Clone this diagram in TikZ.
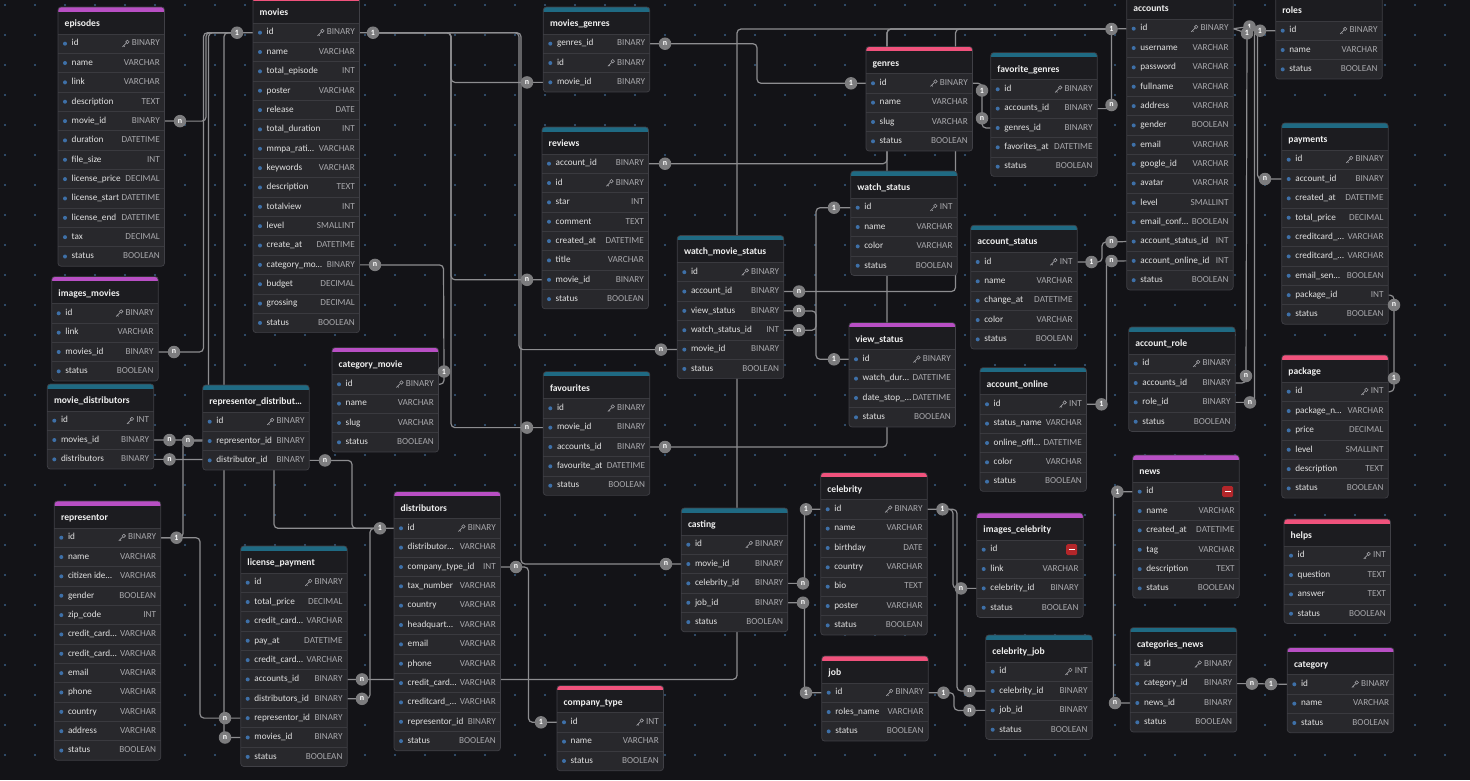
\documentclass[tikz,border=0pt]{standalone}
\usepackage{fontspec}
\setmainfont{Carlito}
\definecolor{bgc}{HTML}{131317}
\definecolor{dotc}{HTML}{395D84}
\definecolor{tblbody}{HTML}{28282C}
\definecolor{tblhead}{HTML}{1C1C20}
\definecolor{tblborder}{HTML}{404046}
\definecolor{rowsepc}{HTML}{3A3A3F}
\definecolor{namec}{HTML}{E2E2E2}
\definecolor{typec}{HTML}{A8A8AC}
\definecolor{titlec}{HTML}{F0F0F0}
\definecolor{pinkc}{HTML}{F0527C}
\definecolor{purplec}{HTML}{B84FC4}
\definecolor{tealc}{HTML}{1F6A83}
\definecolor{mkfill}{HTML}{7C7C7E}
\definecolor{connc}{HTML}{8D8D90}
\definecolor{minusc}{HTML}{B3262A}
\definecolor{keyc}{HTML}{A0A0A5}
\definecolor{fdotc}{HTML}{3E70A8}

\pgfdeclarelayer{gridlayer}
\pgfdeclarelayer{connlayer}
\pgfdeclarelayer{marklayer}
\pgfsetlayers{gridlayer,connlayer,main,marklayer}

\tikzset{
  tbltitle/.style={anchor=west, inner sep=0pt, text=titlec,
    font=\fontsize{9.6}{10}\selectfont\bfseries, text height=6.8pt, text depth=2pt},
  rowbox/.style={minimum width=106.5pt, minimum height=19.35pt, inner sep=0pt},
  fieldname/.style={anchor=west, inner sep=0pt, text=namec,
    font=\fontsize{9.2}{10}\selectfont, text height=6.6pt, text depth=2pt},
  fieldtype/.style={anchor=east, inner sep=0pt, text=typec,
    font=\fontsize{9.2}{10}\selectfont, text height=6.6pt, text depth=2pt},
  rowsep/.style={draw=rowsepc, line width=0.8pt},
  mk/.style={circle, fill=mkfill, inner sep=0pt, minimum size=12.5pt, text=white,
    font=\fontsize{8}{8}\selectfont\bfseries},
  conn/.style={draw=connc, line width=1.2pt, rounded corners=4pt},
}

\def\flagk{k}
\def\flagm{m}

% small key glyph placed left of a primary-key type label
\newcommand{\keyicon}[1]{%
  \begin{scope}[shift={(#1)}]
    \draw[keyc, line width=0.6pt] (-4.2,-1.8) circle (1.7);
    \draw[keyc, line width=0.7pt] (-5.4,-0.6) -- (-9.2,3.2);
    \draw[keyc, line width=0.6pt] (-8.0,2.0) -- (-6.9,3.1);
  \end{scope}}

% table: #1 name, #2 left, #3 top, #4 bar colour, #5 title, #6 rows name/type/flag
\newcommand{\erTable}[6]{%
  \foreach \fname/\ftype/\fflag [count=\ri] in {#6} {\xdef\nrows{\ri}}%
  \pgfmathsetmacro{\tbot}{#3+27+\nrows*19.35}%
  \begin{scope}
    \clip[rounded corners=3pt] (#2,#3) rectangle (#2+106.5,\tbot);
    \fill[tblbody] (#2,#3) rectangle (#2+106.5,\tbot);
    \fill[tblhead] (#2,#3) rectangle (#2+106.5,#3+27);
    \fill[#4] (#2,#3) rectangle (#2+106.5,#3+4.5);
  \end{scope}
  \node[tbltitle] (#1) at (#2+6.5,#3+17) {#5};
  \foreach \fname/\ftype/\fflag [count=\ri] in {#6} {%
    \pgfmathsetmacro{\ry}{#3+27+(\ri-0.5)*19.35}%
    \draw[rowsep] (#2,\ry-9.675) -- (#2+106.5,\ry-9.675);
    \node[rowbox] (#1-\ri) at (#2+53.25,\ry) {};
    \fill[fdotc] (#2+7,\ry) circle (2);
    \node[fieldname] (#1-\ri-n) at (#2+13.5,\ry) {\fname};
    \edef\cur{\fflag}%
    \ifx\cur\flagm
      \fill[minusc, rounded corners=1.5pt] (#2+106.5-17,\ry-5.5) rectangle ++(11,11);
      \fill[white] (#2+106.5-14.5,\ry-0.8) rectangle ++(6,1.6);
    \else
      \node[fieldtype] (#1-\ri-t) at (#2+106.5-4.5,\ry) {\ftype};
      \ifx\cur\flagk \keyicon{#1-\ri-t.west}\fi
    \fi
  }%
  \draw[tblborder, line width=0.7pt, rounded corners=3pt] (#2,#3) rectangle (#2+106.5,\tbot);
}

\begin{document}
\begin{tikzpicture}[x=1pt,y=-1pt]
\useasboundingbox (0,0) rectangle (1470,780);
\clip (0,0) rectangle (1470,780);

% ---------- background and dotted grid ----------
\begin{pgfonlayer}{gridlayer}
\fill[bgc] (0,0) rectangle (1470,780);
\foreach \i in {0,...,48} {
  \foreach \j in {0,...,25} {
    \fill[dotc] (5+30*\i,5+30*\j) circle (1.05);
  }
}
\end{pgfonlayer}

% ---------- tables ----------
\erTable{episodes}{58}{7}{purplec}{episodes}{id/BINARY/k, name/VARCHAR/-, link/VARCHAR/-, description/TEXT/-, movie\_id/BINARY/-, duration/DATETIME/-, file\_size/INT/-, license\_price/DECIMAL/-, license\_start/DATETIME/-, license\_end/DATETIME/-, tax/DECIMAL/-, status/BOOLEAN/-}
\erTable{movies}{253}{-4}{pinkc}{movies}{id/BINARY/k, name/VARCHAR/-, total\_episode/INT/-, poster/VARCHAR/-, release/DATE/-, total\_duration/INT/-, mmpa\_rati…/VARCHAR/-, keywords/VARCHAR/-, description/TEXT/-, totalview/INT/-, level/SMALLINT/-, create\_at/DATETIME/-, category\_mo…/BINARY/-, budget/DECIMAL/-, grossing/DECIMAL/-, status/BOOLEAN/-}
\erTable{mgenres}{543.3}{7}{tealc}{movies\_genres}{genres\_id/BINARY/-, id/BINARY/k, movie\_id/BINARY/-}
\erTable{reviews}{542}{127}{tealc}{reviews}{account\_id/BINARY/-, id/BINARY/k, star/INT/-, comment/TEXT/-, created\_at/DATETIME/-, title/VARCHAR/-, movie\_id/BINARY/-, status/BOOLEAN/-}
\erTable{genres}{866}{46.6}{pinkc}{genres}{id/BINARY/k, name/VARCHAR/-, slug/VARCHAR/-, status/BOOLEAN/-}
\erTable{favgenres}{990.7}{52.6}{tealc}{favorite\_genres}{id/BINARY/k, accounts\_id/BINARY/-, genres\_id/BINARY/-, favorites\_at/DATETIME/-, status/BOOLEAN/-}
\erTable{wstatus}{850.7}{171}{tealc}{watch\_status}{id/INT/k, name/VARCHAR/-, color/VARCHAR/-, status/BOOLEAN/-}
\erTable{astatus}{970.7}{225.3}{tealc}{account\_status}{id/INT/k, name/VARCHAR/-, change\_at/DATETIME/-, color/VARCHAR/-, status/BOOLEAN/-}
\erTable{accounts}{1126.7}{-8}{tealc}{accounts}{id/BINARY/k, username/VARCHAR/-, password/VARCHAR/-, fullname/VARCHAR/-, address/VARCHAR/-, gender/BOOLEAN/-, email/VARCHAR/-, google\_id/VARCHAR/-, avatar/VARCHAR/-, level/SMALLINT/-, email\_conf…/BOOLEAN/-, account\_status\_id/INT/-, account\_online\_id/INT/-, status/BOOLEAN/-}
\erTable{roles}{1275.7}{-6}{tealc}{roles}{id/BINARY/k, name/VARCHAR/-, status/BOOLEAN/-}
\erTable{payments}{1281.7}{123}{tealc}{payments}{id/BINARY/k, account\_id/BINARY/-, created\_at/DATETIME/-, total\_price/DECIMAL/-, creditcard\_…/VARCHAR/-, creditcard\_…/VARCHAR/-, email\_sen…/BOOLEAN/-, package\_id/INT/-, status/BOOLEAN/-}
\erTable{imgmovies}{51.7}{276.6}{purplec}{images\_movies}{id/BINARY/k, link/VARCHAR/-, movies\_id/BINARY/-, status/BOOLEAN/-}
\erTable{mdist}{47.3}{384}{tealc}{movie\_distributors}{id/INT/k, movies\_id/BINARY/-, distributors/BINARY/-}
\erTable{repdist}{202.7}{385}{tealc}{representor\_distribut…}{id/BINARY/k, representor\_id/BINARY/-, distributor\_id/BINARY/-}
\erTable{catmovie}{332}{347.6}{purplec}{category\_movie}{id/BINARY/k, name/VARCHAR/-, slug/VARCHAR/-, status/BOOLEAN/-}
\erTable{favourites}{543.3}{371.6}{tealc}{favourites}{id/BINARY/k, movie\_id/BINARY/-, accounts\_id/BINARY/-, favourite\_at/DATETIME/-, status/BOOLEAN/-}
\erTable{wms}{677.3}{235.5}{tealc}{watch\_movie\_status}{id/BINARY/k, account\_id/BINARY/-, view\_status/BINARY/-, watch\_status\_id/INT/-, movie\_id/BINARY/-, status/BOOLEAN/-}
\erTable{vstatus}{849}{322.6}{purplec}{view\_status}{id/BINARY/k, watch\_dur…/DATETIME/-, date\_stop\_…/DATETIME/-, status/BOOLEAN/-}
\erTable{aonline}{980}{367.6}{tealc}{account\_online}{id/INT/k, status\_name/VARCHAR/-, online\_offl…/DATETIME/-, color/VARCHAR/-, status/BOOLEAN/-}
\erTable{celebrity}{820.7}{472.6}{pinkc}{celebrity}{id/BINARY/k, name/VARCHAR/-, birthday/DATE/-, country/VARCHAR/-, bio/TEXT/-, poster/VARCHAR/-, status/BOOLEAN/-}
\erTable{arole}{1128.7}{327}{tealc}{account\_role}{id/BINARY/k, accounts\_id/BINARY/-, role\_id/BINARY/-, status/BOOLEAN/-}
\erTable{package}{1281.7}{355}{pinkc}{package}{id/INT/k, package\_n…/VARCHAR/-, price/DECIMAL/-, level/SMALLINT/-, description/TEXT/-, status/BOOLEAN/-}
\erTable{news}{1132.7}{455}{purplec}{news}{id/-/m, name/VARCHAR/-, created\_at/DATETIME/-, tag/VARCHAR/-, description/TEXT/-, status/BOOLEAN/-}
\erTable{representor}{54.3}{501}{purplec}{representor}{id/BINARY/k, name/VARCHAR/-, citizen ide…/VARCHAR/-, gender/BOOLEAN/-, zip\_code/INT/-, credit\_card…/VARCHAR/-, credit\_card…/VARCHAR/-, email/VARCHAR/-, phone/VARCHAR/-, country/VARCHAR/-, address/VARCHAR/-, status/BOOLEAN/-}
\erTable{license}{240.7}{546}{tealc}{license\_payment}{id/BINARY/k, total\_price/DECIMAL/-, credit\_card…/VARCHAR/-, pay\_at/DATETIME/-, credit\_card…/VARCHAR/-, accounts\_id/BINARY/-, distributors\_id/BINARY/-, representor\_id/BINARY/-, movies\_id/BINARY/-, status/BOOLEAN/-}
\erTable{distributors}{394}{491.6}{purplec}{distributors}{id/BINARY/k, distributor…/VARCHAR/-, company\_type\_id/INT/-, tax\_number/VARCHAR/-, country/VARCHAR/-, headquart…/VARCHAR/-, email/VARCHAR/-, phone/VARCHAR/-, credit\_card…/VARCHAR/-, creditcard\_…/VARCHAR/-, representor\_id/BINARY/-, status/BOOLEAN/-}
\erTable{ctype}{557}{685.6}{pinkc}{company\_type}{id/INT/k, name/VARCHAR/-, status/BOOLEAN/-}
\erTable{casting}{681.3}{508}{tealc}{casting}{id/BINARY/k, movie\_id/BINARY/-, celebrity\_id/BINARY/-, job\_id/BINARY/-, status/BOOLEAN/-}
\erTable{job}{821.7}{656}{pinkc}{job}{id/BINARY/k, roles\_name/VARCHAR/-, status/BOOLEAN/-}
\erTable{imgceleb}{976.7}{513}{purplec}{images\_celebrity}{id/-/m, link/VARCHAR/-, celebrity\_id/BINARY/-, status/BOOLEAN/-}
\erTable{celebjob}{985.7}{635}{tealc}{celebrity\_job}{id/INT/k, celebrity\_id/BINARY/-, job\_id/BINARY/-, status/BOOLEAN/-}
\erTable{helps}{1284}{519}{pinkc}{helps}{id/INT/k, question/TEXT/-, answer/TEXT/-, status/BOOLEAN/-}
\erTable{catnews}{1130.3}{627.6}{tealc}{categories\_news}{id/BINARY/k, category\_id/BINARY/-, news\_id/BINARY/-, status/BOOLEAN/-}
\erTable{category}{1287.3}{647.6}{purplec}{category}{id/BINARY/k, name/VARCHAR/-, status/BOOLEAN/-}

% ---------- cardinality markers ----------
\begin{pgfonlayer}{marklayer}
\node[mk] (oAccR2) at (1249.5,26.5) {1};
\node[mk] (oAccR1) at (1247,33.3) {1};
\node[mk] (oRoles) at (1260,30.7) {1};
\foreach \nm/\px/\py/\lb in {
  oMovL/237/32.7/1, oMovR/373/32.7/1, nEp/180/121.1/n, nImg/174/352/n,
  nMdMov/169.5/440/n, nMdDist/169.5/459.4/n, nRdRep/188/441/n, nRdDist/325/460.4/n,
  oRep/176.5/537.7/1, oDist/380/528.3/1, nLpAcc/362/679.4/n, nLpDist/362/698.8/n,
  nLpRep/225/718.1/n, nLpMov/225/737.5/n, nDistCt/516/567/n, oCt/541/722.3/1,
  nMovCat/375/264.9/n, oCatMov/444/371.5/1, nMgMov/527/82.4/n, nMgGen/665/43.7/n,
  nRvAcc/665/163.7/n, nRvMov/527/279.8/n, nFvMov/527/427.6/n, nFvAcc/665/447/n,
  nWmsMov/661/349.6/n, nWmsAcc/799/291.5/n, nWmsView/799/310.9/n, nWmsWatch/799/330.2/n,
  oWatch/834/207.7/1, oView/834/359.3/1, oGenL/851/83.3/1, oGenR/982/90.5/1,
  nFgGen/982/118.3/n, oAccL/1111.5/29/1, nFgAcc/1111.5/105/n, nAccAs/1111.5/242/n,
  nAccAo/1111.5/261/n, oAs/1091.5/262/1, oAo/1101.5/404.3/1,
  nPayAcc/1265/179/n, nArAcc/1246/376/n, nArRole/1250/402.4/n,
  nPayPkg/1394/305/n, oPkg/1394/378.3/1, oNews/1117.3/491.7/1, nCnNews/1115/703/n,
  nCnCat/1252/683.6/n, oCat/1271/684/1, nCaMov/666/564/n, nCaCel/803/583.4/n,
  nCaJob/803/602.7/n, oCelL/806/509.3/1, oJobL/806/692.7/1, oCelR/942.5/509.3/1,
  nIcCel/961/588.4/n, nCjCel/969.5/691/n, oJobR/943.5/692.7/1, nCjJob/969.5/710.4/n} {
  \node[mk] (\nm) at (\px,\py) {\lb};
}
\end{pgfonlayer}

% ---------- relationship connectors ----------
\begin{pgfonlayer}{connlayer}
% movies.id, left side
\draw[conn] (episodes-5.east) -- (nEp.center) -- (206,121.1) -- (206,32.7) -- (oMovL.center) -- (movies-1.west);
\draw[conn] (imgmovies-3.east) -- (nImg.center) -- (203.5,352) -- (203.5,32.7) -- (oMovL.center);
\draw[conn] (mdist-2.east) -- (nMdMov.center) -- (208.5,440) -- (208.5,32.7) -- (oMovL.center);
\draw[conn] (license-9.west) -- (nLpMov.center) -- (224,737.5) -- (224,32.7) -- (oMovL.center);
% movies.id, right side
\draw[conn] (movies-1.east) -- (oMovR.center) -- (451,32.7) -- (451,82.4) -- (nMgMov.center) -- (mgenres-3.west);
\draw[conn] (oMovR.center) -- (451,32.7) -- (451,279.8) -- (nRvMov.center) -- (reviews-7.west);
\draw[conn] (oMovR.center) -- (451,32.7) -- (451,427.6) -- (nFvMov.center) -- (favourites-2.west);
\draw[conn] (oMovR.center) -- (519,32.7) -- (519,349.6) -- (nWmsMov.center) -- (wms-5.west);
\draw[conn] (oMovR.center) -- (521,32.7) -- (521,564) -- (nCaMov.center) -- (casting-2.west);
% movies.category -> category_movie
\draw[conn] (movies-13.east) -- (nMovCat.center) -- (443.5,264.9) -- (oCatMov.center) |- (catmovie-1.east);
% distributors.id
\draw[conn] (mdist-3.east) -- (nMdDist.center) -- (274,459.4) -- (274,528.3) -- (oDist.center) -- (distributors-1.west);
\draw[conn] (repdist-3.east) -- (nRdDist.center) -- (352,460.4) -- (352,528.3) -- (oDist.center);
\draw[conn] (license-7.east) -- (nLpDist.center) -- (370,698.8) -- (370,528.3) -- (oDist.center);
% representor.id
\draw[conn] (repdist-2.west) -- (nRdRep.center) -- (183,441) -- (183,537.7) -- (oRep.center) -- (representor-1.east);
\draw[conn] (representor-1.east) -- (oRep.center) -- (200,537.7) -- (200,718.1) -- (nLpRep.center) -- (license-8.west);
% company_type.id
\draw[conn] (distributors-3.east) -- (nDistCt.center) -- (528.5,567) -- (528.5,722.3) -- (oCt.center) -- (ctype-1.west);
% accounts.id, left side
\draw[conn] (license-6.east) -- (nLpAcc.center) -- (737,679.4) -- (737,29) -- (oAccL.center) -- (accounts-1.west);
\draw[conn] (reviews-1.east) -- (nRvAcc.center) -- (887,163.7) -- (887,29) -- (oAccL.center);
\draw[conn] (favourites-3.east) -- (nFvAcc.center) -- (887,447) -- (887,29) -- (oAccL.center);
\draw[conn] (wms-2.east) -- (nWmsAcc.center) -- (955.5,291.5) -- (955.5,29) -- (oAccL.center);
\draw[conn] (favgenres-2.east) -| (nFgAcc.center) -- (oAccL.center);
% view / watch status
\draw[conn] (wms-3.east) -- (nWmsView.center) -- (816,310.9) -- (816,359.3) -- (oView.center) -- (vstatus-1.west);
\draw[conn] (wms-4.east) -- (nWmsWatch.center) -- (816,330.2) -- (816,207.7) -- (oWatch.center) -- (wstatus-1.west);
% genres.id
\draw[conn] (mgenres-1.east) -- (nMgGen.center) -- (757,43.7) -- (757,83.3) -- (oGenL.center) -- (genres-1.west);
\draw[conn] (genres-1.east) -| (oGenR.center) -- (nFgGen.center) |- (favgenres-3.west);
% account status / online
\draw[conn] (astatus-1.east) -- (oAs.center) -- (1102,262) -- (1102,242) -- (nAccAs.center) -- (accounts-12.west);
\draw[conn] (aonline-1.east) -- (oAo.center) -- (1106.5,404.3) -- (1106.5,261) -- (nAccAo.center) -- (accounts-13.west);
% accounts.id, right side, and roles.id
\draw[conn] (accounts-1.east) -- (oAccR1.center) -- (nArAcc.center) |- (arole-2.east);
\draw[conn] (accounts-1.east) -- (oAccR2.center) -- (1257.5,26.5) -- (1257.5,179) -- (nPayAcc.center) -- (payments-2.west);
\draw[conn] (roles-1.west) -- (oRoles.center) -- (1254.5,30.7) -- (1254.5,402.4) -- (nArRole.center) -- (arole-3.east);
% package.id
\draw[conn] (payments-8.east) -| (nPayPkg.center) -- (oPkg.center) |- (package-1.east);
% news / category
\draw[conn] (news-1.west) -- (oNews.center) -- (1113.5,491.7) -- (1113.5,703) -- (nCnNews.center) -- (catnews-3.west);
\draw[conn] (catnews-2.east) -- (nCnCat.center) -- (oCat.center) -- (category-1.west);
% casting, celebrity, job
\draw[conn] (casting-3.east) -- (nCaCel.center) -- (804.5,583.4) -- (804.5,509.3) -- (oCelL.center) -- (celebrity-1.west);
\draw[conn] (casting-4.east) -- (nCaJob.center) -- (804.5,602.7) -- (804.5,692.7) -- (oJobL.center) -- (job-1.west);
\draw[conn] (celebrity-1.east) -- (oCelR.center) -- (953,509.3) -- (953,588.4) -- (nIcCel.center) -- (imgceleb-3.west);
\draw[conn] (oCelR.center) -- (957,509.3) -- (957,691) -- (nCjCel.center) -- (celebjob-2.west);
\draw[conn] (job-1.east) -- (oJobR.center) -- (954,692.7) -- (954,710.4) -- (nCjJob.center) -- (celebjob-3.west);
\end{pgfonlayer}

\end{tikzpicture}
\end{document}
